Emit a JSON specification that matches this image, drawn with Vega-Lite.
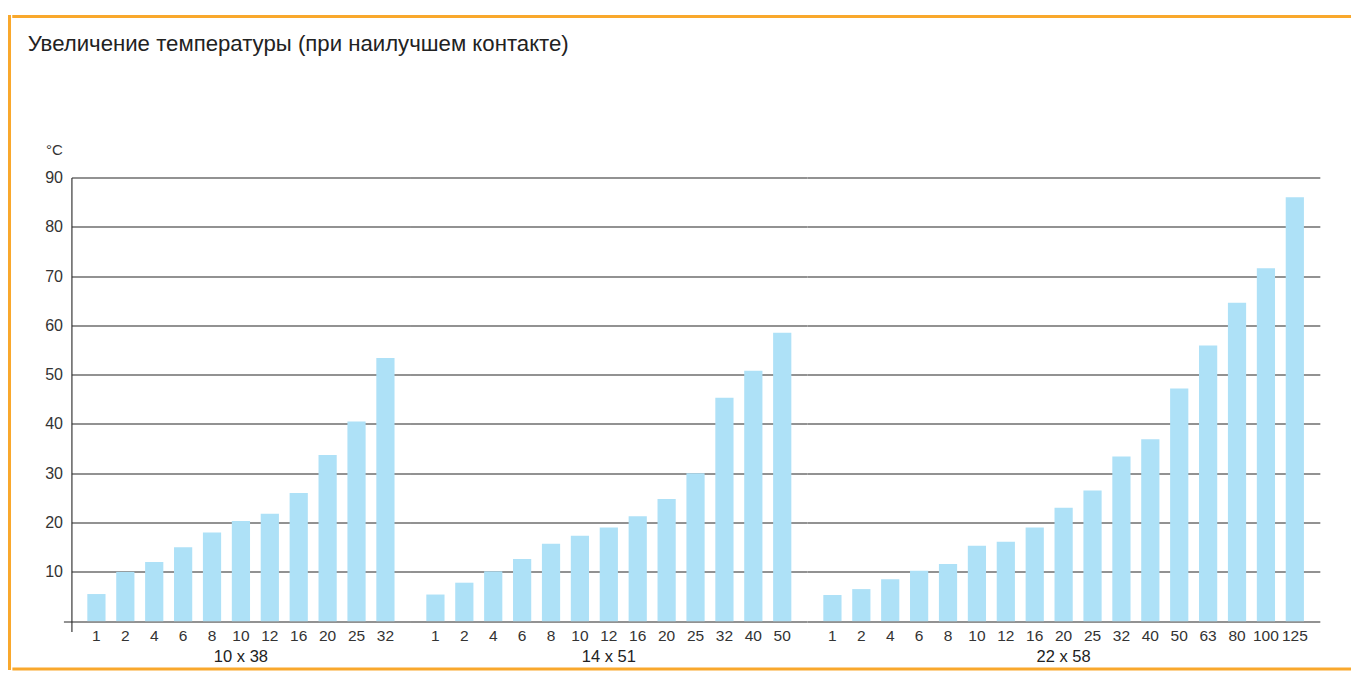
{
  "$schema": "https://vega.github.io/schema/vega-lite/v6.json",
  "padding": {"left": 7.5, "top": 14.5, "right": 0, "bottom": 0},
  "background": "white",
  "data": {
    "values": [
      {"group": "10 x 38", "label": "1", "value": 5.5},
      {"group": "10 x 38", "label": "2", "value": 10},
      {"group": "10 x 38", "label": "4", "value": 12},
      {"group": "10 x 38", "label": "6", "value": 15},
      {"group": "10 x 38", "label": "8", "value": 18},
      {"group": "10 x 38", "label": "10", "value": 20.3},
      {"group": "10 x 38", "label": "12", "value": 21.8},
      {"group": "10 x 38", "label": "16", "value": 26},
      {"group": "10 x 38", "label": "20", "value": 33.7},
      {"group": "10 x 38", "label": "25", "value": 40.5},
      {"group": "10 x 38", "label": "32", "value": 53.4},
      {"group": "14 x 51", "label": "1", "value": 5.4},
      {"group": "14 x 51", "label": "2", "value": 7.8},
      {"group": "14 x 51", "label": "4", "value": 10.1},
      {"group": "14 x 51", "label": "6", "value": 12.6},
      {"group": "14 x 51", "label": "8", "value": 15.7},
      {"group": "14 x 51", "label": "10", "value": 17.3},
      {"group": "14 x 51", "label": "12", "value": 19},
      {"group": "14 x 51", "label": "16", "value": 21.3},
      {"group": "14 x 51", "label": "20", "value": 24.8},
      {"group": "14 x 51", "label": "25", "value": 30},
      {"group": "14 x 51", "label": "32", "value": 45.3},
      {"group": "14 x 51", "label": "40", "value": 50.8},
      {"group": "14 x 51", "label": "50", "value": 58.5},
      {"group": "22 x 58", "label": "1", "value": 5.3},
      {"group": "22 x 58", "label": "2", "value": 6.5},
      {"group": "22 x 58", "label": "4", "value": 8.5},
      {"group": "22 x 58", "label": "6", "value": 10.2},
      {"group": "22 x 58", "label": "8", "value": 11.6},
      {"group": "22 x 58", "label": "10", "value": 15.3},
      {"group": "22 x 58", "label": "12", "value": 16.1},
      {"group": "22 x 58", "label": "16", "value": 19},
      {"group": "22 x 58", "label": "20", "value": 23},
      {"group": "22 x 58", "label": "25", "value": 26.5},
      {"group": "22 x 58", "label": "32", "value": 33.4},
      {"group": "22 x 58", "label": "40", "value": 36.9},
      {"group": "22 x 58", "label": "50", "value": 47.2},
      {"group": "22 x 58", "label": "63", "value": 55.9},
      {"group": "22 x 58", "label": "80", "value": 64.6},
      {"group": "22 x 58", "label": "100", "value": 71.6},
      {"group": "22 x 58", "label": "125", "value": 86}
    ]
  },
  "spacing": 0,
  "hconcat": [
    {
      "width": 0.01,
      "height": 652,
      "view": {"stroke": "#F9A82C", "strokeWidth": 3},
      "mark": {"type": "rule", "opacity": 0},
      "encoding": {}
    },
    {
      "spacing": 85,
      "center": true,
      "vconcat": [
        {
          "width": 1362,
          "height": 0.01,
          "view": {"stroke": "#F9A82C", "strokeWidth": 3},
          "title": {
            "text": "Увеличение температуры (при наилучшем контакте)",
            "orient": "bottom",
            "anchor": "start",
            "frame": "group",
            "dx": 14,
            "offset": 16,
            "font": "Liberation Sans",
            "fontSize": 22.2,
            "fontWeight": "normal",
            "color": "#222222"
          },
          "mark": {"type": "rule", "opacity": 0},
          "encoding": {}
        },
        {
          "spacing": 1.5,
          "center": true,
          "vconcat": [
            {
              "facet": {
                "column": {
                  "field": "group",
                  "type": "nominal",
                  "title": null,
                  "header": {
                    "labelOrient": "bottom",
                    "labelFont": "Liberation Sans",
                    "labelFontSize": 16.5,
                    "labelColor": "#222222",
                    "labelPadding": 4
                  }
                }
              },
              "spacing": 0,
              "resolve": {"scale": {"x": "independent"}},
              "spec": {
                "width": {"step": 28.9},
                "height": 454,
                "mark": {"type": "bar", "color": "#aee1f7"},
                "encoding": {
                  "x": {
                    "field": "label",
                    "type": "nominal",
                    "sort": null,
                    "scale": {"paddingInner": 0.37, "paddingOuter": 0.55},
                    "axis": {
                      "title": null,
                      "labelAngle": 0,
                      "ticks": false,
                      "domain": false,
                      "grid": false,
                      "labelPadding": -3,
                      "labelFont": "Liberation Sans",
                      "labelFontSize": 15.5,
                      "labelColor": "#333333"
                    }
                  },
                  "y": {
                    "field": "value",
                    "type": "quantitative",
                    "scale": {"domain": [-2.1, 90], "nice": false},
                    "axis": {
                      "values": [0, 10, 20, 30, 40, 50, 60, 70, 80, 90],
                      "labelExpr": "datum.value == 0 ? '' : datum.label",
                      "grid": true,
                      "gridColor": "#262626",
                      "gridWidth": 1.1,
                      "gridOpacity": 1,
                      "domain": true,
                      "domainColor": "#262626",
                      "domainWidth": 1.1,
                      "ticks": true,
                      "tickSize": 8,
                      "tickColor": "#262626",
                      "tickOpacity": {"condition": {"test": "datum.value == 0", "value": 1}, "value": 0},
                      "labelPadding": 1,
                      "labelFont": "Liberation Sans",
                      "labelFontSize": 16,
                      "labelColor": "#333333",
                      "title": "°C",
                      "titleAngle": 0,
                      "titleAlign": "left",
                      "titleBaseline": "alphabetic",
                      "titleX": -26,
                      "titleY": -23,
                      "titleFont": "Liberation Sans",
                      "titleFontSize": 15,
                      "titleFontWeight": "normal",
                      "titleColor": "#333333"
                    }
                  }
                }
              }
            },
            {
              "width": 1362,
              "height": 0.01,
              "view": {"stroke": "#F9A82C", "strokeWidth": 3},
              "mark": {"type": "rule", "opacity": 0},
              "encoding": {}
            }
          ]
        }
      ]
    }
  ],
  "config": {"view": {"stroke": null}}
}
